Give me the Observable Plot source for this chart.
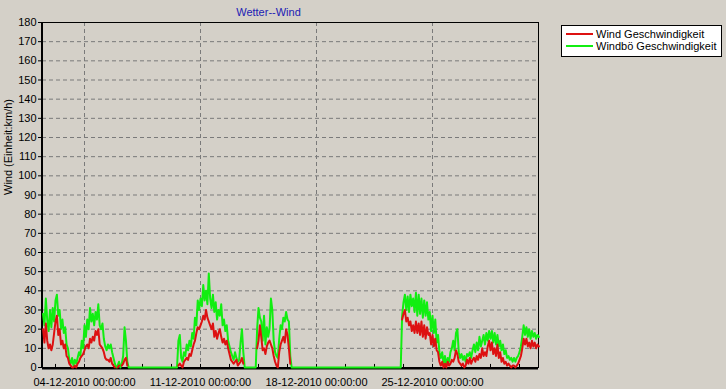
<!DOCTYPE html>
<html><head><meta charset="utf-8">
<script src="https://cdn.jsdelivr.net/npm/d3@7"></script>
<script src="https://cdn.jsdelivr.net/npm/@observablehq/plot@0.6"></script>
<style>html,body{margin:0;padding:0;background:#d4d0c8;} #chart{width:726px;height:389px;overflow:hidden}</style>
</head><body><div id="chart"></div>
<script>
const title = "Wetter--Wind";
const yLabel = "Wind (Einheit:km/h)";
const seriesNames = ["Wind Geschwindigkeit", "Windbö Geschwindigkeit"];
const seriesColors = ["#dd1111", "#11ee11"];
const startTime = "2010-12-01T12:00:00Z";
const stepHours = 2;
const xDomain = ["2010-12-01T11:10:00Z", "2010-12-31T09:30:00Z"];
const majorTicks = ["2010-12-04T00:00:00Z", "2010-12-11T00:00:00Z", "2010-12-18T00:00:00Z", "2010-12-25T00:00:00Z"];
const minorTicks = ["2010-12-02T06:00:00Z","2010-12-04T00:00:00Z","2010-12-05T18:00:00Z","2010-12-07T12:00:00Z","2010-12-09T06:00:00Z",
  "2010-12-11T00:00:00Z","2010-12-12T18:00:00Z","2010-12-14T12:00:00Z","2010-12-16T06:00:00Z","2010-12-18T00:00:00Z",
  "2010-12-19T18:00:00Z","2010-12-21T12:00:00Z","2010-12-23T06:00:00Z","2010-12-25T00:00:00Z","2010-12-26T18:00:00Z",
  "2010-12-28T12:00:00Z","2010-12-30T06:00:00Z"];
const yTicks = [0,10,20,30,40,50,60,70,80,90,100,110,120,130,140,150,160,170,180];

// Windbö (gust), every 2 hours from 01-12-2010 12:00
const gust = [
  28,22,36,25,19,30,21,31,24,35,
  38,27,30,20,25,18,21,12,10,4,
  2,5,1,4,2,5,8,6,14,10,
  22,16,25,20,31,24,28,22,29,25,
  33,22,20,23,15,11,9,12,10,12,
  8,5,2,0,1,3,0,2,6,21,
  14,3,0,0,0,0,0,0,0,0,
  0,0,0,0,0,0,0,0,0,0,
  0,0,0,0,0,0,0,0,0,0,
  0,0,0,0,0,0,0,0,14,17,
  5,3,8,6,12,9,14,11,18,15,
  26,22,35,30,36,32,43,35,40,33,
  49,36,31,38,29,34,25,30,27,33,
  22,25,19,22,14,11,8,6,4,8,
  5,3,4,13,20,8,0,0,0,0,
  0,0,0,0,0,20,31,26,24,14,
  27,12,21,16,20,36,30,14,8,6,
  5,15,22,20,26,24,29,25,24,6,
  0,0,0,0,0,0,0,0,0,0,
  0,0,0,0,0,0,0,0,0,0,
  0,0,0,0,0,0,0,0,0,0,
  0,0,0,0,0,0,0,0,0,0,
  0,0,0,0,0,0,0,0,0,0,
  0,0,0,0,0,0,0,0,0,0,
  0,0,0,0,0,0,0,0,0,0,
  0,0,0,0,0,0,0,0,0,0,
  27,34,38,30,37,29,38,32,36,29,
  39,27,38,28,36,26,35,27,34,25,
  29,19,27,18,25,13,17,8,5,8,
  2,6,1,5,3,8,10,14,9,18,
  20,8,5,7,4,6,3,7,6,8,
  5,9,12,8,13,9,16,11,14,17,
  12,18,14,19,15,19,13,18,12,17,
  11,14,9,12,7,9,5,6,4,5,
  3,5,3,5,6,8,11,16,22,17,
  21,16,20,15,19,16,18,15,17,16
];
// Wind, same times
const wind = [
  20,13,23,14,10,12,9,12,18,24,
  27,17,20,12,14,10,12,6,5,2,
  1,0,0,1,0,2,3,5,6,7,
  9,11,12,10,15,13,16,14,19,17,
  20,12,11,10,8,5,4,4,3,5,
  2,1,0,0,0,1,0,1,2,4,
  5,1,0,0,0,0,0,0,0,0,
  0,0,0,0,0,0,0,0,0,0,
  0,0,0,0,0,0,0,0,0,0,
  0,0,0,0,0,0,0,0,1,2,
  1,0,3,4,5,4,7,6,9,12,
  14,18,21,20,22,24,27,25,30,26,
  24,22,20,23,16,19,15,18,20,16,
  13,15,12,14,10,7,4,3,2,3,
  4,1,2,3,5,2,0,0,0,0,
  0,0,0,0,0,10,14,22,16,9,
  10,7,11,13,14,12,10,6,3,1,
  0,8,12,14,16,13,20,17,10,2,
  0,0,0,0,0,0,0,0,0,0,
  0,0,0,0,0,0,0,0,0,0,
  0,0,0,0,0,0,0,0,0,0,
  0,0,0,0,0,0,0,0,0,0,
  0,0,0,0,0,0,0,0,0,0,
  0,0,0,0,0,0,0,0,0,0,
  0,0,0,0,0,0,0,0,0,0,
  0,0,0,0,0,0,0,0,0,0,
  25,28,30,24,26,22,24,19,22,18,
  24,18,23,17,24,16,22,15,21,17,
  18,12,17,11,15,9,8,3,1,3,
  0,2,0,3,1,2,4,3,5,9,
  7,3,2,1,2,0,1,4,2,5,
  2,4,5,3,6,4,7,5,10,6,
  8,6,11,14,9,13,7,10,6,12,
  5,8,3,5,2,3,1,2,1,0,
  1,1,0,1,2,4,6,10,15,12,
  15,11,13,10,14,11,13,10,12,11
];

const t0 = new Date(startTime).getTime();
const data = gust.map((g, i) => ({date: new Date(t0 + i * stepHours * 3600e3), gust: g, wind: wind[i]}));
const fmt = d3.utcFormat("%d-%m-%Y %H:%M:%S");
const majors = majorTicks.map(d => new Date(d));
const minors = minorTicks.map(d => new Date(d));
const font = "'Liberation Sans', Arial, sans-serif";

const chart = Plot.plot({
  width: 726, height: 389,
  marginLeft: 42, marginRight: 188, marginTop: 22, marginBottom: 22,
  style: {background: "#d4d0c8", fontFamily: font, fontSize: "11px", color: "#000", overflow: "visible"},
  x: {type: "utc", domain: xDomain.map(d => new Date(d))},
  y: {domain: [0, 180]},
  marks: [
    Plot.gridY(yTicks.slice(1, -1), {stroke: "#7a7a7a", strokeOpacity: 1, strokeDasharray: "4,3"}),
    Plot.gridX(majors, {stroke: "#7a7a7a", strokeOpacity: 1, strokeDasharray: "4,3"}),
    Plot.frame({stroke: "#000"}),
    Plot.ruleY([0], {stroke: "#000", strokeWidth: 2, dy: 1}),
    Plot.ruleX([xDomain[0]].map(d => new Date(d)), {stroke: "#000", strokeWidth: 2, dx: -0.5}),
    Plot.ruleX(minors, {y1: 0, y2: 1.6, stroke: "#000", strokeWidth: 1}),
    Plot.line(data, {x: "date", y: "gust", stroke: seriesColors[1], strokeWidth: 2}),
    Plot.line(data, {x: "date", y: d => d.gust > 0 ? d.wind : NaN, stroke: seriesColors[0], strokeWidth: 2}),
    Plot.axisY(yTicks, {tickSize: 4, tickPadding: 2, label: null, fill: "#000"}),
    Plot.axisX(majors, {tickSize: 0, tickPadding: 11, tickFormat: fmt, label: null, fill: "#000"}),
    Plot.text([yLabel], {frameAnchor: "left", rotate: -90, dx: -34, fill: "#000"}),
    Plot.text([title], {frameAnchor: "top-left", textAnchor: "middle", dx: 226, dy: -14, fill: "#1c1cb4"})
  ]
});

const svg = d3.select(chart);
const lg = svg.append("g").attr("font-family", font).attr("font-size", 11).attr("text-anchor", "start");
lg.append("rect").attr("x", 561.5).attr("y", 25.5).attr("width", 160).attr("height", 31)
  .attr("fill", "#fff").attr("stroke", "#000");
seriesNames.forEach((n, k) => {
  const y = 34 + k * 12;
  lg.append("line").attr("x1", 566).attr("x2", 593).attr("y1", y).attr("y2", y)
    .attr("stroke", seriesColors[k]).attr("stroke-width", 2);
  lg.append("text").attr("x", 596).attr("y", y + 4).attr("fill", "#000").attr("text-anchor", "start").text(n);
});
document.getElementById("chart").appendChild(chart);
</script>
</body></html>
